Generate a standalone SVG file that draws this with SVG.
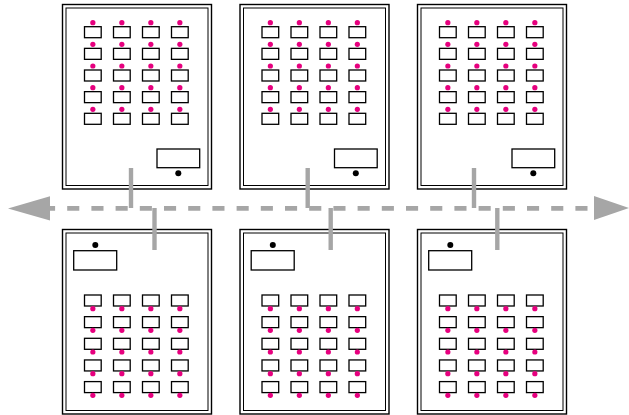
<svg xmlns="http://www.w3.org/2000/svg" xmlns:xlink="http://www.w3.org/1999/xlink" width="629" height="415" viewBox="0 0 629 415">
<style>
.outer{fill:#fff;stroke:#000;stroke-width:1.4}
.inner{fill:none;stroke:#000;stroke-width:1}
.cell{fill:#fff;stroke:#000;stroke-width:1.3}
.pin{fill:#e6007e}
.big{fill:#fff;stroke:#000;stroke-width:1.3}
.led{fill:#000}
.conn{stroke:#a6a6a6;stroke-width:4.4;fill:none}
.bus{stroke:#a6a6a6;stroke-width:4.6;fill:none;stroke-dasharray:12.1 12.1}
.head{fill:#a6a6a6}
</style>
<defs>
<g id="cellTop">
<rect class="cell" x="0" y="0" width="16.7" height="11"/>
<circle class="pin" cx="8.35" cy="-4" r="2.6"/>
</g>
<g id="cellBot">
<rect class="cell" x="0" y="0" width="16.7" height="11"/>
<circle class="pin" cx="8.35" cy="13.7" r="2.6"/>
</g>
<g id="rowTop">
<use xlink:href="#cellTop" x="0"/><use xlink:href="#cellTop" x="29"/><use xlink:href="#cellTop" x="58"/><use xlink:href="#cellTop" x="87"/>
</g>
<g id="rowBot">
<use xlink:href="#cellBot" x="0"/><use xlink:href="#cellBot" x="29"/><use xlink:href="#cellBot" x="58"/><use xlink:href="#cellBot" x="87"/>
</g>
<g id="topBoard">
<rect class="outer" x="0.5" y="4.5" width="149" height="184.5"/>
<rect class="inner" x="4" y="8" width="142" height="177.5"/>
<use xlink:href="#rowTop" x="22.5" y="26.7"/>
<use xlink:href="#rowTop" x="22.5" y="48.35"/>
<use xlink:href="#rowTop" x="22.5" y="70"/>
<use xlink:href="#rowTop" x="22.5" y="91.65"/>
<use xlink:href="#rowTop" x="22.5" y="113.3"/>
<rect class="big" x="95" y="149" width="42.7" height="18.7"/>
<circle class="led" cx="116.3" cy="173.3" r="3"/>
</g>
<g id="botBoard">
<rect class="outer" x="0.5" y="229.5" width="149" height="184.5"/>
<rect class="inner" x="4" y="233" width="142" height="177.5"/>
<use xlink:href="#rowBot" x="22.5" y="295"/>
<use xlink:href="#rowBot" x="22.5" y="316.65"/>
<use xlink:href="#rowBot" x="22.5" y="338.3"/>
<use xlink:href="#rowBot" x="22.5" y="359.95"/>
<use xlink:href="#rowBot" x="22.5" y="381.6"/>
<rect class="big" x="11.7" y="250.7" width="43" height="19.3"/>
<circle class="led" cx="33.3" cy="245" r="3"/>
</g>
</defs>
<g id="board-top-1" transform="translate(62,0)"><use xlink:href="#topBoard"/></g>
<g id="board-top-2" transform="translate(239.5,0)"><use xlink:href="#topBoard"/></g>
<g id="board-top-3" transform="translate(417,0)"><use xlink:href="#topBoard"/></g>
<g id="board-bottom-1" transform="translate(62,0)"><use xlink:href="#botBoard"/></g>
<g id="board-bottom-2" transform="translate(239.5,0)"><use xlink:href="#botBoard"/></g>
<g id="board-bottom-3" transform="translate(417,0)"><use xlink:href="#botBoard"/></g>
<g id="connectors">
<line class="bus" x1="43" y1="208.4" x2="596" y2="208.4"/>
<polygon class="head" points="8,208.4 50,196.2 50,220.6"/>
<polygon class="head" points="629,208 594,196 594,220"/>
<line class="conn" x1="131" y1="168" x2="131" y2="208"/>
<line class="conn" x1="307.7" y1="168" x2="307.7" y2="208"/>
<line class="conn" x1="474" y1="168" x2="474" y2="208"/>
<line class="conn" x1="154.5" y1="208" x2="154.5" y2="250"/>
<line class="conn" x1="330.7" y1="208" x2="330.7" y2="250"/>
<line class="conn" x1="497.3" y1="208" x2="497.3" y2="250"/>
</g>
</svg>
